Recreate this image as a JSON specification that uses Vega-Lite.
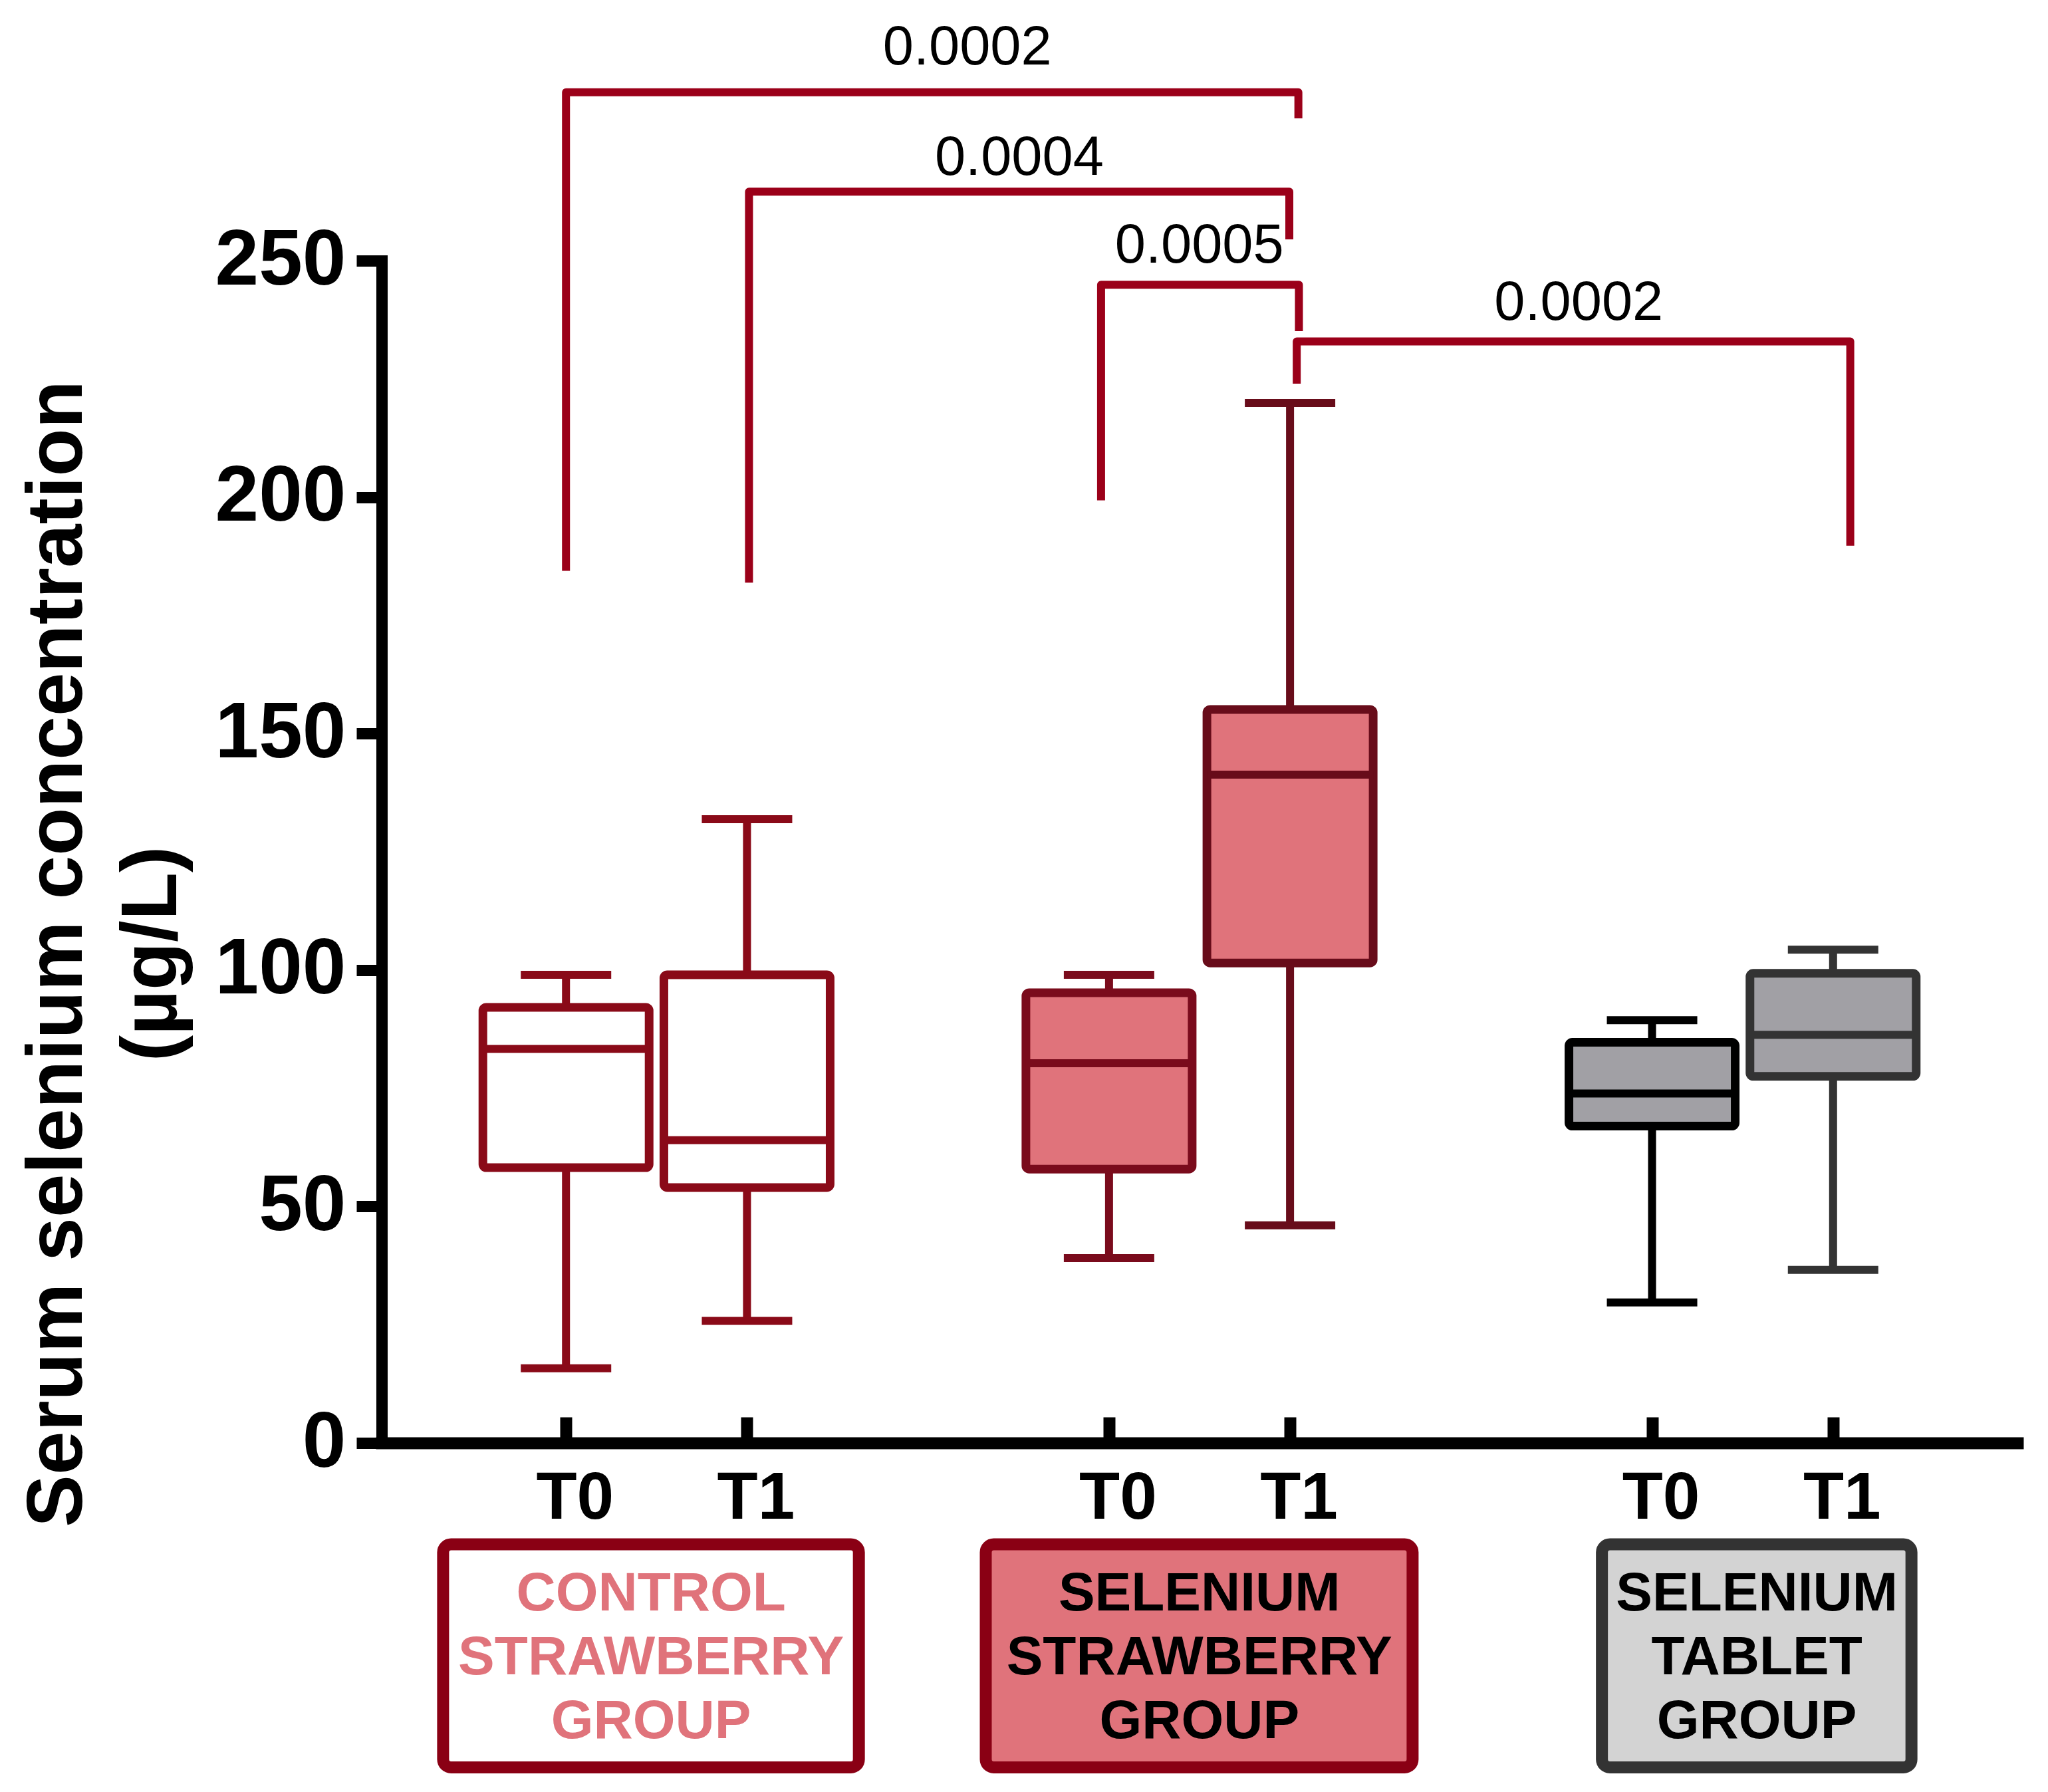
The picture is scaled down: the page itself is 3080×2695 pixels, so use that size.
{
  "$schema": "https://vega.github.io/schema/vega-lite/v6.json",
  "width": 2460,
  "height": 1778,
  "autosize": {"type": "none"},
  "padding": {"left": 574, "top": 392, "right": 46, "bottom": 525},
  "background": "white",
  "config": {"view": {"stroke": null}, "font": "Liberation Sans"},
  "datasets": {
    "boxes": [
      {"group": "Control strawberry", "time": "T0", "box": "CS-T0", "slot": 0, "min": 15.8, "q1": 58.2, "median": 83.3, "q3": 92.1, "max": 99.0},
      {"group": "Control strawberry", "time": "T1", "box": "CS-T1", "slot": 1, "min": 25.8, "q1": 54.0, "median": 64.0, "q3": 99.0, "max": 131.9},
      {"group": "Selenium strawberry", "time": "T0", "box": "SS-T0", "slot": 3, "min": 39.1, "q1": 57.9, "median": 80.3, "q3": 95.2, "max": 99.0},
      {"group": "Selenium strawberry", "time": "T1", "box": "SS-T1", "slot": 4, "min": 46.0, "q1": 101.5, "median": 141.3, "q3": 155.1, "max": 219.9},
      {"group": "Selenium tablet", "time": "T0", "box": "ST-T0", "slot": 6, "min": 29.7, "q1": 67.0, "median": 73.9, "q3": 84.7, "max": 89.4},
      {"group": "Selenium tablet", "time": "T1", "box": "ST-T1", "slot": 7, "min": 36.6, "q1": 77.5, "median": 86.3, "q3": 99.3, "max": 104.3}
    ],
    "brackets": [
      {"bracket": 1, "ord": 1, "slot": 0, "value": 184.4},
      {"bracket": 1, "ord": 2, "slot": 0, "value": 285.6},
      {"bracket": 1, "ord": 3, "slot": 4.046, "value": 285.6},
      {"bracket": 1, "ord": 4, "slot": 4.046, "value": 280.1},
      {"bracket": 2, "ord": 1, "slot": 1.011, "value": 181.9},
      {"bracket": 2, "ord": 2, "slot": 1.011, "value": 264.6},
      {"bracket": 2, "ord": 3, "slot": 3.996, "value": 264.6},
      {"bracket": 2, "ord": 4, "slot": 3.996, "value": 254.5},
      {"bracket": 3, "ord": 1, "slot": 2.956, "value": 199.3},
      {"bracket": 3, "ord": 2, "slot": 2.956, "value": 244.9},
      {"bracket": 3, "ord": 3, "slot": 4.049, "value": 244.9},
      {"bracket": 3, "ord": 4, "slot": 4.049, "value": 235.1},
      {"bracket": 4, "ord": 1, "slot": 4.037, "value": 224.0},
      {"bracket": 4, "ord": 2, "slot": 4.037, "value": 232.9},
      {"bracket": 4, "ord": 3, "slot": 7.095, "value": 232.9},
      {"bracket": 4, "ord": 4, "slot": 7.095, "value": 189.7}
    ],
    "pvalues": [
      {"p": "0.0002", "slot": 2.217, "value": 291.5},
      {"p": "0.0004", "slot": 2.504, "value": 268.1},
      {"p": "0.0005", "slot": 3.499, "value": 249.6},
      {"p": "0.0002", "slot": 5.595, "value": 237.5}
    ],
    "groups": [
      {"group": "Control strawberry", "label": "CONTROL\nSTRAWBERRY\nGROUP", "x1": -0.679, "x2": 1.618, "top": -21.45, "bottom": -68.6, "tx": 0.47, "ty": -35.5},
      {"group": "Selenium strawberry", "label": "SELENIUM\nSTRAWBERRY\nGROUP", "x1": 2.319, "x2": 4.677, "top": -21.45, "bottom": -68.6, "tx": 3.499, "ty": -35.5},
      {"group": "Selenium tablet", "label": "SELENIUM\nTABLET\nGROUP", "x1": 5.723, "x2": 7.433, "top": -21.45, "bottom": -68.6, "tx": 6.579, "ty": -35.5}
    ]
  },
  "layer": [
    {
      "data": {"name": "boxes"},
      "mark": {"type": "rule"},
      "encoding": {
        "x": {
          "field": "slot", "type": "quantitative",
          "scale": {"domain": [-1, 8], "nice": false, "zero": false},
          "axis": {
            "values": [0, 1, 3, 4, 6, 7],
            "labelExpr": "datum.value % 3 == 0 ? 'T0' : 'T1'",
            "title": null, "grid": false,
            "domainColor": "black", "domainWidth": 18, "domainCap": "square",
            "tickColor": "black", "tickWidth": 18, "tickSize": -39,
            "labelFont": "Liberation Sans", "labelFontSize": 100, "labelFontWeight": "bold", "labelColor": "black",
            "labelBaseline": "alphabetic", "labelPadding": 152, "labelOffset": 13, "labelLimit": 400
          }
        },
        "y": {
          "field": "min", "type": "quantitative",
          "scale": {"domain": [0, 250], "nice": false, "zero": false},
          "axis": {
            "values": [0, 50, 100, 150, 200, 250],
            "title": ["Serum selenium concentration", "(µg/L)"],
            "grid": false,
            "domainColor": "black", "domainWidth": 17, "domainCap": "square",
            "tickColor": "black", "tickWidth": 17, "tickSize": 38,
            "labelFont": "Liberation Sans", "labelFontSize": 118, "labelFontWeight": "bold", "labelColor": "black", "labelPadding": 16, "labelLimit": 500,
            "titleFont": "Liberation Sans", "titleFontSize": 118, "titleFontWeight": "bold", "titleColor": "black", "titleLimit": 3000,
            "titleX": -452, "titleY": 1042, "titleAngle": 270, "titleAlign": "center", "titleBaseline": "alphabetic", "titleLineHeight": 142
          }
        },
        "y2": {"field": "max"},
        "stroke": {"field": "box", "type": "nominal", "legend": null,
          "scale": {"domain": ["CS-T0", "CS-T1", "SS-T0", "SS-T1", "ST-T0", "ST-T1"], "range": ["#8a0a18", "#8a0a18", "#7a0b1c", "#680c1a", "#000000", "#333333"]}},
        "strokeWidth": {"field": "group", "type": "nominal", "legend": null,
          "scale": {"domain": ["Control strawberry", "Selenium strawberry", "Selenium tablet"], "range": [12, 12, 17]}}
      }
    },
    {
      "data": {"name": "boxes"},
      "mark": {"type": "rule", "xOffset": -68, "x2Offset": 68},
      "encoding": {
        "x": {"field": "slot", "type": "quantitative", "scale": {"domain": [-1, 8], "nice": false, "zero": false}},
        "x2": {"field": "slot"},
        "y": {"field": "min", "type": "quantitative", "scale": {"domain": [0, 250], "nice": false, "zero": false}},
        "stroke": {"field": "box", "type": "nominal", "legend": null,
          "scale": {"domain": ["CS-T0", "CS-T1", "SS-T0", "SS-T1", "ST-T0", "ST-T1"], "range": ["#8a0a18", "#8a0a18", "#7a0b1c", "#680c1a", "#000000", "#333333"]}},
        "strokeWidth": {"field": "group", "type": "nominal", "legend": null,
          "scale": {"domain": ["Control strawberry", "Selenium strawberry", "Selenium tablet"], "range": [12, 12, 17]}}
      }
    },
    {
      "data": {"name": "boxes"},
      "mark": {"type": "rule", "xOffset": -68, "x2Offset": 68},
      "encoding": {
        "x": {"field": "slot", "type": "quantitative", "scale": {"domain": [-1, 8], "nice": false, "zero": false}},
        "x2": {"field": "slot"},
        "y": {"field": "max", "type": "quantitative", "scale": {"domain": [0, 250], "nice": false, "zero": false}},
        "stroke": {"field": "box", "type": "nominal", "legend": null,
          "scale": {"domain": ["CS-T0", "CS-T1", "SS-T0", "SS-T1", "ST-T0", "ST-T1"], "range": ["#8a0a18", "#8a0a18", "#7a0b1c", "#680c1a", "#000000", "#333333"]}},
        "strokeWidth": {"field": "group", "type": "nominal", "legend": null,
          "scale": {"domain": ["Control strawberry", "Selenium strawberry", "Selenium tablet"], "range": [12, 12, 17]}}
      }
    },
    {
      "data": {"name": "boxes"},
      "mark": {"type": "bar", "width": 250, "cornerRadius": 5},
      "encoding": {
        "x": {"field": "slot", "type": "quantitative", "scale": {"domain": [-1, 8], "nice": false, "zero": false}},
        "y": {"field": "q1", "type": "quantitative", "scale": {"domain": [0, 250], "nice": false, "zero": false}},
        "y2": {"field": "q3"},
        "fill": {"field": "group", "type": "nominal", "legend": null,
          "scale": {"domain": ["Control strawberry", "Selenium strawberry", "Selenium tablet"], "range": ["#ffffff", "#e0737b", "#a1a0a5"]}},
        "stroke": {"field": "box", "type": "nominal", "legend": null,
          "scale": {"domain": ["CS-T0", "CS-T1", "SS-T0", "SS-T1", "ST-T0", "ST-T1"], "range": ["#8a0a18", "#8a0a18", "#7a0b1c", "#680c1a", "#000000", "#333333"]}},
        "strokeWidth": {"field": "group", "type": "nominal", "legend": null,
          "scale": {"domain": ["Control strawberry", "Selenium strawberry", "Selenium tablet"], "range": [13, 13, 17]}}
      }
    },
    {
      "data": {"name": "boxes"},
      "mark": {"type": "rule", "xOffset": -125, "x2Offset": 125},
      "encoding": {
        "x": {"field": "slot", "type": "quantitative", "scale": {"domain": [-1, 8], "nice": false, "zero": false}},
        "x2": {"field": "slot"},
        "y": {"field": "median", "type": "quantitative", "scale": {"domain": [0, 250], "nice": false, "zero": false}},
        "stroke": {"field": "box", "type": "nominal", "legend": null,
          "scale": {"domain": ["CS-T0", "CS-T1", "SS-T0", "SS-T1", "ST-T0", "ST-T1"], "range": ["#8a0a18", "#8a0a18", "#7a0b1c", "#680c1a", "#000000", "#333333"]}},
        "strokeWidth": {"field": "group", "type": "nominal", "legend": null,
          "scale": {"domain": ["Control strawberry", "Selenium strawberry", "Selenium tablet"], "range": [12, 12, 17]}}
      }
    },
    {
      "data": {"name": "brackets"},
      "mark": {"type": "line", "color": "#9b0019", "strokeWidth": 12, "strokeJoin": "round", "strokeCap": "butt"},
      "encoding": {
        "x": {"field": "slot", "type": "quantitative", "scale": {"domain": [-1, 8], "nice": false, "zero": false}},
        "y": {"field": "value", "type": "quantitative", "scale": {"domain": [0, 250], "nice": false, "zero": false}},
        "detail": {"field": "bracket", "type": "nominal"},
        "order": {"field": "ord", "type": "quantitative"}
      }
    },
    {
      "data": {"name": "pvalues"},
      "mark": {"type": "text", "font": "Liberation Sans", "fontSize": 83, "align": "center", "baseline": "alphabetic", "color": "black"},
      "encoding": {
        "x": {"field": "slot", "type": "quantitative", "scale": {"domain": [-1, 8], "nice": false, "zero": false}},
        "y": {"field": "value", "type": "quantitative", "scale": {"domain": [0, 250], "nice": false, "zero": false}},
        "text": {"field": "p", "type": "nominal"}
      }
    },
    {
      "data": {"name": "groups"},
      "mark": {"type": "rect", "strokeWidth": 18, "cornerRadius": 12},
      "encoding": {
        "x": {"field": "x1", "type": "quantitative", "scale": {"domain": [-1, 8], "nice": false, "zero": false}},
        "x2": {"field": "x2"},
        "y": {"field": "top", "type": "quantitative", "scale": {"domain": [0, 250], "nice": false, "zero": false}},
        "y2": {"field": "bottom"},
        "fill": {"field": "group", "type": "nominal", "legend": null,
          "scale": {"domain": ["Control strawberry", "Selenium strawberry", "Selenium tablet"], "range": ["#ffffff", "#e0737b", "#d3d3d3"]}},
        "stroke": {"field": "group", "type": "nominal", "legend": null,
          "scale": {"domain": ["Control strawberry", "Selenium strawberry", "Selenium tablet"], "range": ["#8a0014", "#8a0014", "#333333"]}}
      }
    },
    {
      "data": {"name": "groups"},
      "mark": {"type": "text", "font": "Liberation Sans", "fontSize": 82, "fontWeight": "bold", "align": "center", "baseline": "alphabetic", "lineBreak": "\n", "lineHeight": 96},
      "encoding": {
        "x": {"field": "tx", "type": "quantitative", "scale": {"domain": [-1, 8], "nice": false, "zero": false}},
        "y": {"field": "ty", "type": "quantitative", "scale": {"domain": [0, 250], "nice": false, "zero": false}},
        "text": {"field": "label", "type": "nominal"},
        "color": {"field": "group", "type": "nominal", "legend": null,
          "scale": {"domain": ["Control strawberry", "Selenium strawberry", "Selenium tablet"], "range": ["#e0737b", "#000000", "#000000"]}}
      }
    }
  ],
  "resolve": {"scale": {"fill": "independent", "stroke": "independent", "strokeWidth": "independent", "color": "independent"}}
}
